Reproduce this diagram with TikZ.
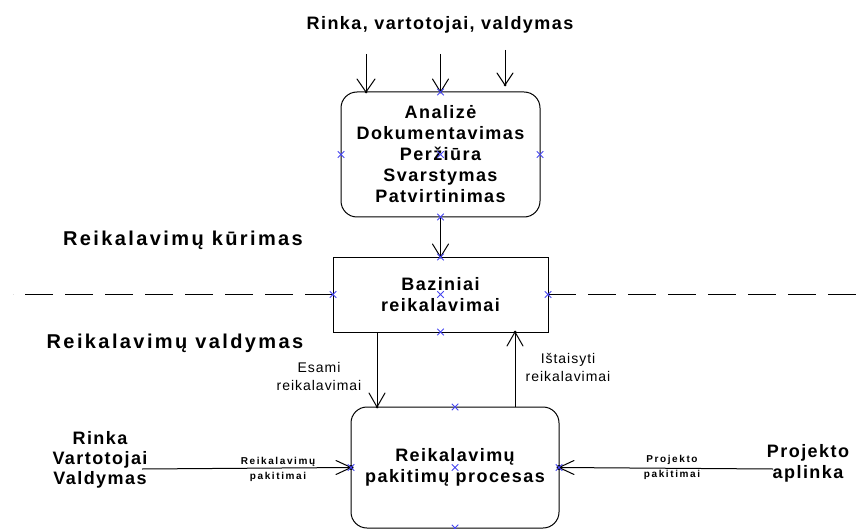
\documentclass[tikz,border=0pt]{standalone}
\usepackage{fontspec}
\setmainfont{Liberation Sans}
\newfontfamily\labfont[LetterSpace=8]{Liberation Sans}
\newfontfamily\zonefont[LetterSpace=12]{Liberation Sans}
\newfontfamily\notefont[LetterSpace=7]{Liberation Sans}
\newfontfamily\minifont[LetterSpace=16]{Liberation Sans}
\usetikzlibrary{shapes.misc}
\definecolor{cpblue}{RGB}{70,70,240}

\begin{document}
\begin{tikzpicture}[x=1pt,y=-1pt,
  every node/.style={inner sep=0pt, outer sep=0pt},
  heading/.style={font=\labfont\bfseries\fontsize{18}{21}\selectfont, align=center},
  zonelabel/.style={font=\zonefont\bfseries\fontsize{20}{24}\selectfont},
  rbox/.style={draw, line width=1pt, rounded corners=16pt, heading},
  sbox/.style={draw, line width=1pt, heading},
  flow/.style={line width=1pt},
  vee/.style={line width=1pt, line cap=round, line join=round},
  notelabel/.style={font=\notefont\fontsize{14}{18}\selectfont, align=center},
  minilabel/.style={font=\minifont\bfseries\fontsize{10}{15}\selectfont, align=center},
  cpt/.style={cross out, draw=cpblue, line width=0.9pt, minimum size=6.5pt},
  tipdot/.style={circle, fill=black, minimum size=5pt},
  smalldot/.style={circle, fill=black, minimum size=3pt},
  divider/.style={line width=1pt, dash pattern=on 28pt off 12pt}
]
\path[use as bounding box] (0,0) rectangle (858,529);
\clip (0,0) rectangle (858,529);

% boxes
\node[rbox, minimum width=199pt, minimum height=125pt] (analysis) at (440.5,154.5)
  {Analizė\\Dokumentavimas\\Peržiūra\\Svarstymas\\Patvirtinimas};
\node[sbox, minimum width=215pt, minimum height=75pt] (base) at (440.5,294.5)
  {Baziniai\\reikalavimai};
\node[rbox, minimum width=208pt, minimum height=121pt] (process) at (455,467.5)
  {Reikalavimų\\pakitimų procesas};

% free labels
\node[heading] (title) at (440,25) {Rinka, vartotojai, valdymas};
\node[zonelabel] (zone1) at (183,240) {Reikalavimų kūrimas};
\node[zonelabel] (zone2) at (175,343) {Reikalavimų valdymas};
\node[heading, font=\labfont\bfseries\fontsize{18}{20}\selectfont] (market) at (100,460) {Rinka\\Vartotojai\\Valdymas};
\node[heading] (env) at (808,463.5) {Projekto\\aplinka};
\node[notelabel] (existing) at (319,376) {Esami\\reikalavimai};
\node[notelabel] (fixed) at (568,367) {Ištaisyti\\reikalavimai};
\node[minilabel] (chg1) at (278,469) {Reikalavimų\\pakitimai};
\node[minilabel] (chg2) at (672,467) {Projekto\\pakitimai};

% connector ends
\coordinate (in1) at (366,54);
\coordinate (in1end) at (366,92);
\coordinate (in2) at (440.5,54);
\coordinate (in3) at (505,50);
\coordinate (in3end) at (505,85);
\coordinate (esami-top) at (377,332);
\coordinate (esami-end) at (377,407);
\coordinate (fix-start) at (515,407);
\coordinate (fix-end) at (515,332);
\coordinate (mkt) at (142,469);
\coordinate (prj) at (773,469);
\coordinate (dashL) at (13,294.5);
\coordinate (dashR) at (858,294.5);

% connectors
\draw[flow] (in1) -- (in1end);
\draw[flow] (in2) -- (analysis.north);
\draw[flow] (in3) -- (in3end);
\draw[flow] (analysis.south) -- (base.north);
\draw[flow] (esami-top) -- (esami-end);
\draw[flow] (fix-start) -- (fix-end);
\draw[flow] (mkt) -- (process.west);
\draw[flow] (prj) -- (process.east);

% open V arrow heads
\draw[vee] (in1end) ++(-9,-13) -- (in1end) -- ++(9,-13);
\draw[vee] (analysis.north) ++(-8,-13) -- (analysis.north) -- ++(8,-13);
\draw[vee] (in3end) ++(-8,-12) -- (in3end) -- ++(8,-12);
\draw[vee] (base.north) ++(-8,-13) -- (base.north) -- ++(8,-13);
\draw[vee] (esami-end) ++(-8,-14) -- (esami-end) -- ++(8,-14);
\draw[vee] (fix-end) ++(-8,14) -- (fix-end) -- ++(8,14);
\draw[vee] (process.west) ++(-15,-7) -- (process.west) -- ++(-15,7);
\draw[vee] (process.east) ++(15,-7) -- (process.east) -- ++(15,7);

% dividing line
\draw[divider] (base.west) -- (dashL);
\draw[divider] (base.east) -- (dashR);

% tip dots
\node[smalldot] (dot1) at (in1end) {};
\node[smalldot] (dot2) at (analysis.north) {};
\node[smalldot] (dot3) at (in3end) {};
\node[smalldot] (dot4) at (base.north) {};
\node[smalldot] (dot5) at (esami-end) {};
\node[smalldot] (dot6) at (fix-end) {};
\node[tipdot] (dotL) at (process.west) {};
\node[tipdot] (dotR) at (process.east) {};

% connection points
\foreach \b in {analysis,base,process}
  \foreach \a in {north,south,east,west,center}
    \node[cpt] (\b-\a-pt) at (\b.\a) {};
\end{tikzpicture}
\end{document}
